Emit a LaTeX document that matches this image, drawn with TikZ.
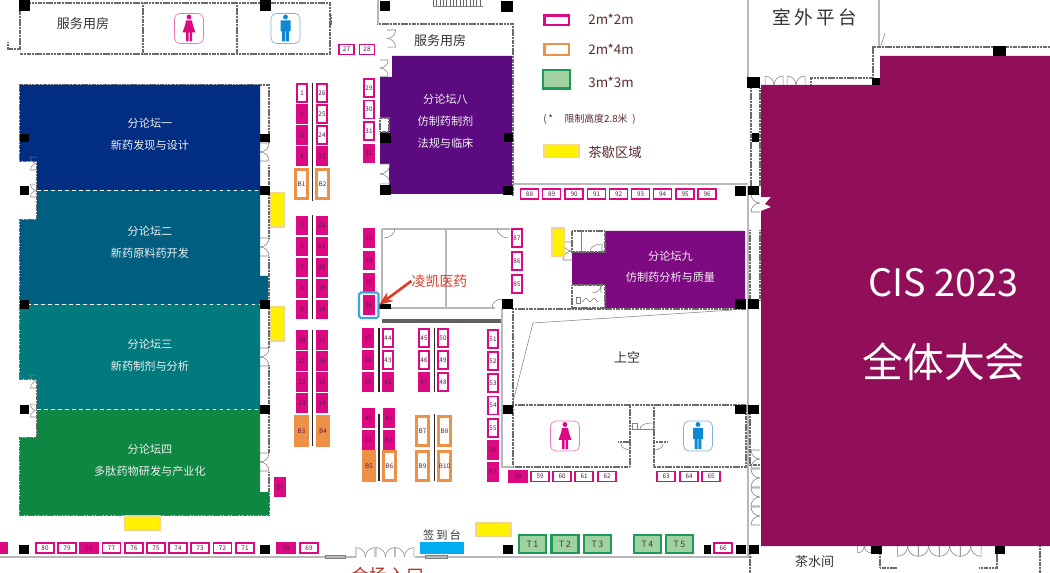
\documentclass[tikz,border=0pt]{standalone}
\usepackage{fontspec}
\setmainfont{Noto Sans CJK SC}
\newfontfamily\spacedfont[LetterSpace=18]{Noto Sans CJK SC}
\usetikzlibrary{arrows.meta}
\definecolor{boothpink}{HTML}{DC0A82}
\definecolor{boothnum}{HTML}{5A1442}
\definecolor{boothorange}{HTML}{EE9048}
\definecolor{boothgreen}{HTML}{1D9A58}
\definecolor{legendtext}{HTML}{5C2B2E}
\definecolor{coffee}{HTML}{F4D488}
\definecolor{leadred}{HTML}{DD3B2A}
\definecolor{markblue}{HTML}{3FA3E6}
\tikzset{
  boothv/.style={draw=none,fill=boothpink,text=boothnum,inner sep=0pt,minimum width=.245cm,minimum height=.385cm,font=\fontsize{3.6}{3.6}\selectfont},
  boothh/.style={boothv,minimum width=.385cm,minimum height=.245cm},
  openv/.style={boothv,draw=boothpink,fill=white,line width=1.1pt,minimum width=.2cm,minimum height=.36cm},
  openh/.style={boothh,draw=boothpink,fill=white,line width=1.1pt,minimum width=.36cm,minimum height=.2cm},
  bigopen/.style={boothv,draw=boothorange,fill=white,line width=1.5pt,minimum width=.24cm,minimum height=.57cm},
  bigfull/.style={bigopen,fill=boothorange},
  tbooth/.style={draw=boothgreen,fill=green!35!gray!55,line width=1.2pt,minimum width=.54cm,minimum height=.37cm,inner sep=0pt,text=black!75,font=\fontsize{5}{5}\selectfont},
  tea/.style={draw=coffee,fill=yellow,line width=.6pt},
  column/.style={fill=black},
  spine/.style={fill=black!85},
  hatchwall/.style={draw=black!58,line width=1.35pt,dash pattern=on .7pt off .2pt},
  thinwall/.style={draw=black!28,line width=.8pt},
  hairline/.style={draw=black!50,line width=.3pt},
  forumname/.style={text=white!94!black,inner sep=0pt,font=\fontsize{6.35}{6.35}\selectfont},
  roomname/.style={text=black!80,inner sep=0pt,font=\fontsize{7.4}{7.4}\selectfont},
  legendname/.style={text=legendtext,inner sep=0pt,anchor=west,font=\fontsize{7.6}{7.6}\selectfont},
  iconbox/.style={draw,rounded corners=3pt,line width=.4pt,minimum width=.58cm,minimum height=.6cm,inner sep=0pt},
  partline/.style={draw=white,line width=.5pt,dash pattern=on 2pt off 2pt},
  doorleaf/.pic={
    \draw[hairline] (0,0) -- (9,0) .. controls (9,5) and (5,9) .. (0,9);
    \draw[hairline] (0,18) -- (9,18) .. controls (9,13) and (5,9) .. (0,9);
  },
  womanfig/.pic={
    \fill[pic actions] (-2.4,-11.5) .. controls (-2.4,-14.7) and (2.4,-14.7) .. (2.4,-11.5) .. controls (2.4,-8.3) and (-2.4,-8.3) .. (-2.4,-11.5);
    \fill[pic actions] (-3,-8) -- (3,-8) -- (4,-3) -- (6.5,4) -- (3,4) -- (3,13) -- (.5,13) -- (.5,4) -- (-.5,4) -- (-.5,13) -- (-3,13) -- (-3,4) -- (-6.5,4) -- (-4,-3) -- cycle;
  },
  manfig/.pic={
    \fill[pic actions] (-2.4,-11.5) .. controls (-2.4,-14.7) and (2.4,-14.7) .. (2.4,-11.5) .. controls (2.4,-8.3) and (-2.4,-8.3) .. (-2.4,-11.5);
    \fill[pic actions] (-5,-8) -- (5,-8) -- (5,3) -- (3.4,3) -- (3.4,13) -- (.4,13) -- (.4,3) -- (-.4,3) -- (-.4,13) -- (-3.4,13) -- (-3.4,3) -- (-5,3) -- cycle;
  }
}
\begin{document}
\begin{tikzpicture}[x=0.02cm,y=-0.02cm]
\useasboundingbox (0,0) rectangle (1050,573);
\fill[white] (0,0) rectangle (1050,573);

% outer walls
\draw[hatchwall] (20,50) -- (20,3) -- (330,3) -- (330,54) -- (20,54);
\draw[hatchwall] (143,3) -- (143,54);
\draw[hatchwall] (237,3) -- (237,54);
\draw[hatchwall] (8,42) -- (8,49) -- (20,49);
\draw[hatchwall] (331,15) -- (331,25);
\draw[hatchwall] (377,24) -- (513,24) -- (513,195);
\draw[thinwall] (378,0) -- (378,24);
\draw[draw=black!60,line width=3.4pt,dash pattern=on .3pt off 1.6pt] (433,3) -- (483,3);
\draw[hairline] (433,6) -- (483,6);
\draw[thinwall] (513,184) -- (748,184);
\draw[thinwall] (748,0) -- (748,77);
\draw[thinwall] (748,186) -- (748,557);
\draw[thinwall] (879,0) -- (879,46);
\draw[hairline] (881,46) -- (885,33);
\draw[hatchwall] (751,88) -- (751,186);
\draw[hatchwall] (760,88) -- (760,186);
\draw[hatchwall] (750,230) -- (750,300);
\draw[hatchwall] (760,230) -- (760,300);
\draw[hatchwall] (750,414) -- (750,465) -- (760,465);
\draw[hatchwall] (873,78) -- (873,47) -- (1050,47);
\draw[hatchwall] (811,85) -- (811,78) -- (873,78);
\draw[thinwall] (0,557) -- (356,557);
\draw[thinwall] (415,557) -- (752,557);
\draw[hairline] (325,555) rectangle (345,558);
\draw[hairline] (425,555) rectangle (447,558);
\draw[hatchwall] (750,554) -- (750,573);
\draw[hatchwall] (880,554) -- (880,568) -- (897,568);
\draw[hatchwall] (979,568) -- (997,568) -- (997,554);
\draw[hatchwall] (1040,546) -- (1040,573);

% hall walls
\draw[hatchwall] (269,85) -- (269,143);
\draw[hatchwall] (269,165) -- (269,238);
\draw[hatchwall] (269,257) -- (269,348);
\draw[hatchwall] (269,365) -- (269,453);
\draw[hatchwall] (269,472) -- (269,515) -- (20,515) -- (20,438) -- (37,438) -- (37,379) -- (20,379) -- (20,220) -- (37,220) -- (37,161) -- (20,161) -- (20,85) -- (269,85);

% halls
\fill[fill={rgb,255:red,1;green,46;blue,130}] (20,85) -- (260,85) -- (260,190) -- (37,190) -- (37,161) -- (20,161) -- cycle;
\fill[fill={rgb,255:red,0;green,95;blue,128}] (37,190) -- (260,190) -- (260,276) -- (268,276) -- (268,304) -- (20,304) -- (20,220) -- (37,220) -- cycle;
\fill[fill={rgb,255:red,0;green,122;blue,125}] (20,304) -- (260,304) -- (260,409) -- (37,409) -- (37,379) -- (20,379) -- cycle;
\fill[fill={rgb,255:red,14;green,135;blue,67}] (37,409) -- (260,409) -- (260,492) -- (269,492) -- (269,515) -- (20,515) -- (20,438) -- (37,438) -- cycle;
\fill[fill={rgb,255:red,92;green,10;blue,128}] (392,56) -- (512,56) -- (512,194) -- (380,194) -- (380,77) -- (392,77) -- cycle;
\fill[fill={rgb,255:red,126;green,10;blue,130}] (605,231) -- (745,231) -- (745,308) -- (605,308) -- (605,285) -- (572,285) -- (572,252) -- (605,252) -- cycle;
\fill[fill={rgb,255:red,144;green,15;blue,88}] (761,85) -- (880,85) -- (880,56) -- (1050,56) -- (1050,546) -- (761,546) -- (761,211) -- (771,207) -- (765,204) -- (771,197) -- (761,197) -- cycle;
\draw[hatchwall] (572,231) -- (605,231) -- (605,252) -- (572,252) -- cycle;
\draw[hatchwall] (572,285) -- (605,285) -- (605,308) -- (572,308) -- cycle;
\draw[hairline] (581,231) -- (581,252);
\draw[hairline] (590,252) .. controls (590,247) and (595,244) .. (602,244) -- (602,252);
\draw[hairline] (592,293) .. controls (597,293) and (601,290) .. (601,285) -- (601,293);
\draw[hairline] (576,297) rectangle (580,303);
\draw[hairline] (582,302) -- (586,298) -- (590,302) -- (594,298) -- (598,302);
\draw[partline] (37,190) -- (260,190);
\draw[partline] (20,304) -- (260,304);
\draw[partline] (37,409) -- (260,409);

% white notches for the doors
\fill[white] (380,118) rectangle (389,132);
\draw[hatchwall] (380,118) rectangle (389,132);
\fill[white] (380,164) rectangle (389,185);

% meeting room in the middle
\draw[thinwall] (382,229) -- (510,229);
\draw[thinwall] (382,229) -- (382,308) -- (495,308);
\draw[thinwall] (446,229) -- (446,308);
\draw[hairline] (384,238) .. controls (390,238) and (395,233) .. (395,229);
\draw[hairline] (508,238) .. controls (502,238) and (497,233) .. (497,229);
\draw[hairline] (492,308) .. controls (492,302) and (497,299) .. (502,299);
\fill[black!62] (382,319) rectangle (501,323);

% rooms below the void
\draw[hatchwall] (513,309) -- (746,309);
\draw[hatchwall] (513,309) -- (513,467) -- (630,467) -- (630,405);
\draw[hatchwall] (513,405) -- (746,405);
\draw[hatchwall] (654,405) -- (654,467) -- (746,467) -- (746,405);
\draw[thinwall] (502,309) -- (502,467) -- (513,467);
\draw[hairline] (733,310) -- (533,323) -- (513,402);
\draw[hatchwall] (618,442) -- (630,442);
\draw[hatchwall] (654,442) -- (668,442);
\draw[hairline] (630,450) .. controls (625,450) and (621,447) .. (621,444);
\draw[hairline] (654,450) .. controls (659,450) and (663,447) .. (663,444);
\draw[hairline] (632,423) rectangle (637,429);
\draw[hairline] (640,429) .. controls (640,425) and (645,423) .. (652,423);
\draw[hairline] (638,429) -- (653,429);
\draw[hairline] (653,423) -- (653,429);

% doors
\pic[rotate=0] at (260,143) {doorleaf};
\pic[rotate=0] at (260,238) {doorleaf};
\pic[rotate=0] at (260,348) {doorleaf};
\pic[rotate=0] at (260,453) {doorleaf};
\pic[rotate=180,scale=.72] at (37,170) {doorleaf};
\pic[rotate=180,scale=.72] at (37,197) {doorleaf};
\pic[rotate=180,scale=.72] at (37,388) {doorleaf};
\pic[rotate=180,scale=.72] at (37,417) {doorleaf};
\pic[rotate=0,scale=.9] at (380,60) {doorleaf};
\pic[rotate=0,scale=1.1] at (380,164) {doorleaf};
\pic[rotate=0,scale=.95] at (387,30) {doorleaf};
\pic[rotate=180] at (572,260) {doorleaf};
\pic[rotate=180] at (760,212) {doorleaf};
\pic[rotate=180] at (760,468) {doorleaf};
\pic[rotate=180] at (760,487) {doorleaf};
\pic[rotate=180] at (760,506) {doorleaf};
\pic[rotate=180] at (760,525) {doorleaf};
\pic[rotate=90] at (765,85) {doorleaf};
\pic[rotate=90] at (787,85) {doorleaf};
\pic[rotate=270,scale=.75] at (871,546) {doorleaf};
\pic[rotate=270,scale=1.15] at (918,546) {doorleaf};
\pic[rotate=270,scale=1.15] at (939,546) {doorleaf};
\pic[rotate=270,scale=1.15] at (960,546) {doorleaf};
\pic[rotate=270,scale=1.15] at (981,546) {doorleaf};
\pic[rotate=90,scale=1.05] at (356,557) {doorleaf};
\pic[rotate=90,scale=1.05] at (376,557) {doorleaf};
\pic[rotate=90,scale=1.05] at (395,557) {doorleaf};

% columns
\fill[column] (19,0) rectangle (30,11);
\fill[column] (260,0) rectangle (271,11);
\fill[column] (20,134) rectangle (29,142);
\fill[column] (260,134) rectangle (270,142);
\fill[column] (20,186) rectangle (29,195);
\fill[column] (260,186) rectangle (270,195);
\fill[column] (20,300) rectangle (29,309);
\fill[column] (260,300) rectangle (270,309);
\fill[column] (20,405) rectangle (29,414);
\fill[column] (260,405) rectangle (270,414);
\fill[column] (19,545) rectangle (29,554);
\fill[column] (260,545) rectangle (270,554);
\fill[column] (380,1) rectangle (390,11);
\fill[column] (501,1) rectangle (513,12);
\fill[column] (380,133) rectangle (391,143);
\fill[column] (504,133) rectangle (513,142);
\fill[column] (380,185) rectangle (391,195);
\fill[column] (503,186) rectangle (513,195);
\fill[column] (379,304) rectangle (391,309);
\fill[column] (502,299) rectangle (513,309);
\fill[column] (735,186) rectangle (746,196);
\fill[column] (748,186) rectangle (759,195);
\fill[column] (735,299) rectangle (746,309);
\fill[column] (748,299) rectangle (759,309);
\fill[column] (503,405) rectangle (513,414);
\fill[column] (735,405) rectangle (746,414);
\fill[column] (748,405) rectangle (759,414);
\fill[column] (503,545) rectangle (513,554);
\fill[column] (704,545) rectangle (711,554);
\fill[column] (736,545) rectangle (746,554);
\fill[column] (749,545) rectangle (759,554);
\fill[column] (747,77) rectangle (760,88);
\fill[column] (752,133) rectangle (759,142);
\fill[column] (872,78) rectangle (880,85);
\fill[column] (993,46) rectangle (1006,56);
\fill[column] (871,546) rectangle (882,554);
\fill[column] (995,546) rectangle (1005,554);

% spines between the booths
\fill[spine] (311.5,83) rectangle (313.2,201);
\fill[spine] (311.5,215) rectangle (313.2,319);
\fill[spine] (311.5,330) rectangle (313.2,446);
\fill[spine] (378,328) rectangle (379.5,392);
\fill[spine] (433.5,328) rectangle (435,392);
\fill[spine] (378.3,414) rectangle (379.8,481);
\fill[spine] (433.7,414) rectangle (435.2,481);

% tea break areas
\draw[tea] (271,193) rectangle (284,227);
\draw[tea] (271,307) rectangle (284,341);
\draw[tea] (125,516) rectangle (160,530);
\draw[tea] (476,523) rectangle (511,536);
\draw[tea] (552,228) rectangle (564.5,256);

% booths
\node[openv] (b1) at (302,93) {1};
\node[boothv] (b2) at (302,114) {2};
\node[boothv] (b3) at (302,135) {3};
\node[boothv] (b4) at (302,156) {4};
\node[boothv] (b5) at (302,225.5) {5};
\node[boothv] (b6) at (302,246.5) {6};
\node[boothv] (b7) at (302,267.5) {7};
\node[boothv] (b8) at (302,288.5) {8};
\node[boothv] (b9) at (302,309.5) {9};
\node[boothv] (b10) at (302,340) {10};
\node[boothv] (b11) at (302,361) {11};
\node[boothv] (b12) at (302,382) {12};
\node[boothv] (b13) at (302,403) {13};
\node[boothv] (b14) at (322,403) {14};
\node[boothv] (b15) at (322,382) {15};
\node[boothv] (b16) at (322,361) {16};
\node[boothv] (b17) at (322,340) {17};
\node[boothv] (b18) at (322,309.5) {18};
\node[boothv] (b19) at (322,288.5) {19};
\node[boothv] (b20) at (322,267.5) {20};
\node[boothv] (b21) at (322,246.5) {21};
\node[boothv] (b22) at (322,225.5) {22};
\node[boothv] (b23) at (322,156) {23};
\node[openv] (b24) at (322,135) {24};
\node[openv] (b25) at (322,114) {25};
\node[openv] (b26) at (322,93) {26};
\node[openh,minimum width=.3cm] (b27) at (346.5,49.5) {27};
\node[openh,minimum width=.3cm] (b28) at (367,49.5) {28};
\node[openv] (b29) at (369,88) {29};
\node[openv] (b30) at (369,109.5) {30};
\node[openv] (b31) at (369,131) {31};
\node[boothv] (b32) at (369,153.5) {32};
\node[boothv] (b33) at (369,238) {33};
\node[boothv] (b34) at (369,260.5) {34};
\node[boothv] (b35) at (369,282.5) {35};
\node[boothv] (b36) at (369,305) {36};
\node[boothv] (b37) at (368,338) {37};
\node[boothv] (b38) at (368,360) {38};
\node[boothv] (b39) at (368,382) {39};
\node[boothv] (b40) at (368.5,418) {40};
\node[boothv] (b41) at (389,418) {41};
\node[boothv] (b42) at (388,382) {42};
\node[openv] (b43) at (388,360) {43};
\node[openv] (b44) at (388,338) {44};
\node[openv] (b45) at (424,338) {45};
\node[openv] (b46) at (424,360) {46};
\node[boothv] (b47) at (424,382) {47};
\node[openv] (b48) at (443,382) {48};
\node[openv] (b49) at (443,360) {49};
\node[openv] (b50) at (443,338) {50};
\node[openv] (b51) at (493,339) {51};
\node[openv] (b52) at (493,361) {52};
\node[openv] (b53) at (493,383) {53};
\node[openv] (b54) at (493,405.5) {54};
\node[openv] (b55) at (493,428) {55};
\node[boothv] (b56) at (493,450) {56};
\node[boothv] (b57) at (493,472) {57};
\node[boothh] (b58) at (518,476.5) {58};
\node[openh] (b59) at (540,476.5) {59};
\node[openh] (b60) at (562,476.5) {60};
\node[openh] (b61) at (584,476.5) {61};
\node[openh] (b62) at (607,476.5) {62};
\node[openh] (b63) at (666,476.5) {63};
\node[openh] (b64) at (689,476.5) {64};
\node[openh] (b65) at (711,476.5) {65};
\node[openh] (b66) at (723,548) {66};
\node[boothv] (b67) at (389,440) {67};
\node[boothv] (b68) at (368.5,440) {68};
\node[openh] (b69) at (309,548) {69};
\node[boothh] (b70) at (286,548) {70};
\node[openh] (b71) at (245,548) {71};
\node[openh] (b72) at (222.5,548) {72};
\node[openh] (b73) at (200,548) {73};
\node[openh] (b74) at (178,548) {74};
\node[openh] (b75) at (156,548) {75};
\node[openh] (b76) at (134,548) {76};
\node[openh] (b77) at (111.5,548) {77};
\node[boothh] (b78) at (89,548) {78};
\node[openh] (b79) at (67,548) {79};
\node[openh] (b80) at (45,548) {80};
\node[boothh] (b81) at (-2,548) {81};
\node[openv] (b85) at (517,284) {85};
\node[openv] (b86) at (517,261) {86};
\node[openv] (b87) at (517,238) {87};
\node[openh] (b88) at (529.5,194) {88};
\node[openh] (b89) at (551.5,194) {89};
\node[openh] (b90) at (574,194) {90};
\node[openh] (b91) at (596.5,194) {91};
\node[openh] (b92) at (618.5,194) {92};
\node[openh] (b93) at (640.5,194) {93};
\node[openh] (b94) at (662.5,194) {94};
\node[openh] (b95) at (685,194) {95};
\node[openh] (b96) at (707,194) {96};
\node[boothv] (b97) at (280,487) {97};
\node[bigopen] (bb1) at (301.5,184) {B1};
\node[bigopen] (bb2) at (322.5,184) {B2};
\node[bigfull] (bb3) at (301.5,431) {B3};
\node[bigfull] (bb4) at (323,431) {B4};
\node[bigfull] (bb5) at (369,466) {B5};
\node[bigopen] (bb6) at (389.5,466) {B6};
\node[bigopen] (bb7) at (422.5,431) {B7};
\node[bigopen] (bb8) at (444.5,431) {B8};
\node[bigopen] (bb9) at (422.5,466) {B9};
\node[bigopen] (bb10) at (444.5,466) {B10};
\node[tbooth] (t1) at (532.5,544) {T\,1};
\node[tbooth] (t2) at (565,544) {T\,2};
\node[tbooth] (t3) at (597.5,544) {T\,3};
\node[tbooth] (t4) at (647.5,544) {T\,4};
\node[tbooth] (t5) at (679.5,544) {T\,5};
\draw[draw=markblue,line width=1.2pt,rounded corners=1pt] (359,292.5) rectangle (378.5,318);
\fill[fill={rgb,255:red,0;green,174;blue,239}] (420,542) rectangle (464,554);

% icons
\node[iconbox,draw=boothpink!55] (wcA) at (189,28.5) {};
\pic[fill=boothpink] at (wcA) {womanfig};
\node[iconbox,draw=cyan!60!blue!50] (wcB) at (285.5,28.5) {};
\pic[fill=cyan!70!blue] at (wcB) {manfig};
\node[iconbox,draw=boothpink!55] (wcC) at (565,436) {};
\pic[fill=boothpink] at (wcC) {womanfig};
\node[iconbox,draw=cyan!60!blue!50] (wcD) at (698,436) {};
\pic[fill=cyan!70!blue] at (wcD) {manfig};

% hall names
\node[forumname] (hallA) at (150,123.5) {分论坛一};
\node[forumname] (hallAb) at (150,145.5) {新药发现与设计};
\node[forumname] (hallB) at (150,231.5) {分论坛二};
\node[forumname] (hallBb) at (150,253.5) {新药原料药开发};
\node[forumname] (hallC) at (150,344.5) {分论坛三};
\node[forumname] (hallCb) at (150,366.5) {新药制剂与分析};
\node[forumname] (hallD) at (150,449.5) {分论坛四};
\node[forumname] (hallDb) at (150,471.5) {多肽药物研发与产业化};
\node[forumname] (hallH) at (445.5,99.5) {分论坛八};
\node[forumname] (hallHb) at (445.5,121.5) {仿制药制剂};
\node[forumname] (hallHc) at (445.5,143.5) {法规与临床};
\node[forumname] (hallI) at (670.5,256) {分论坛九};
\node[forumname] (hallIb) at (670.5,277.5) {仿制药分析与质量};
\node[text=white,inner sep=0pt,font=\fontsize{21.5}{21.5}\selectfont] (mainA) at (943,283) {CIS 2023};
\node[text=white,inner sep=0pt,font=\fontsize{23.2}{23.2}\selectfont] (mainB) at (944,362) {全体大会};

% room names
\node[roomname] (svcA) at (83,24) {服务用房};
\node[roomname] (svcB) at (440,41) {服务用房};
\node[roomname,font=\fontsize{10.6}{10.6}\spacedfont] (terrace) at (815,17) {室外平台};
\node[roomname] (tearoom) at (814.5,562) {茶水间};
\node[roomname] (voidname) at (627,357) {上空};
\node[roomname,font=\fontsize{6.4}{6.4}\spacedfont] (signin) at (442,535) {签到台};
\node[roomname,text=leadred!85!black,font=\fontsize{10.3}{10.3}\selectfont] (entrance) at (388,576) {会场入口};

% legend
\draw[draw=boothpink,line width=1.2pt] (544.5,15.5) rectangle (569,25);
\draw[draw=boothorange,line width=1.5pt] (544.5,44) rectangle (569,55);
\draw[tbooth] (543,70) rectangle (570,88.5);
\draw[tea] (544,144.5) rectangle (579,157.5);
\node[legendname] (sizeA) at (588,19.5) {2m*2m};
\node[legendname] (sizeB) at (588,49.5) {2m*4m};
\node[legendname] (sizeC) at (588,82) {3m*3m};
\node[legendname,font=\fontsize{5.6}{5.6}\selectfont] (limitnote) at (543,119) {(\,*\hspace{1.2em}限制高度2.8米\hspace{.5em})};
\node[legendname] (teanote) at (588,152) {茶歇区域};

% callout
\node[inner sep=0pt,text=leadred,font=\fontsize{7.9}{7.9}\selectfont] (leadname) at (439.5,281) {凌凯医药};
\coordinate (leadtip) at (379,305);
\draw[draw=leadred,line width=1.5pt,-{Stealth[length=8pt,width=6pt]}] (leadname.west) -- (leadtip);
\end{tikzpicture}
\end{document}
